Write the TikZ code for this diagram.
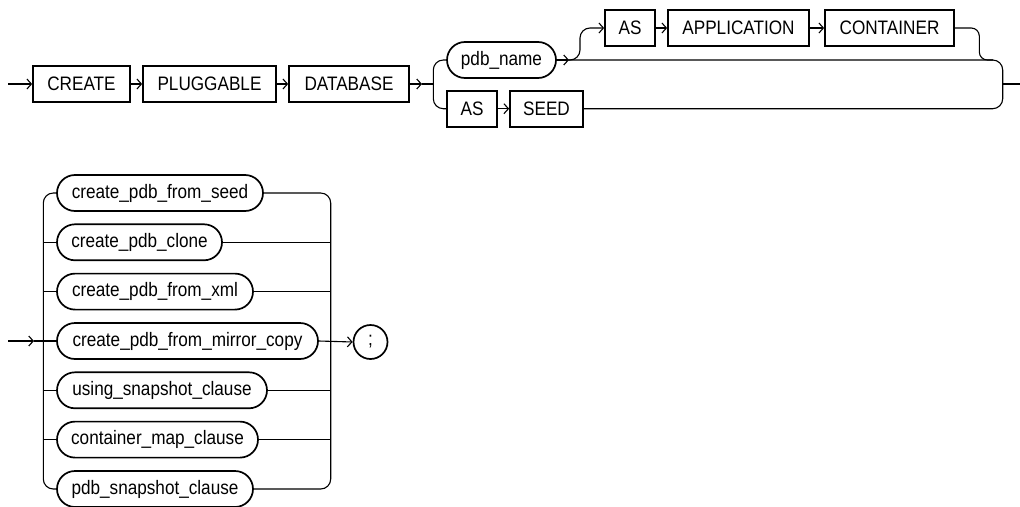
\documentclass[tikz,border=0pt]{standalone}
\usepackage{fontspec}
\setmainfont{Liberation Sans}[FakeStretch=0.88]
\usetikzlibrary{shapes.misc,arrows.meta}
\begin{document}
\begin{tikzpicture}[x=1pt,y=-1pt,
  every node/.style={font=\fontsize{19.5}{22}\selectfont, inner sep=0pt, anchor=center},
  term/.style={draw, rectangle, line width=1.7pt, minimum height=36pt},
  nterm/.style={draw, rounded rectangle, line width=1.7pt, minimum height=36pt},
  conn/.style={line width=1.1pt},
  arr/.style={conn, -{Straight Barb[length=4.5pt,width=10pt,line width=1.1pt]}},
  rc/.style={conn, rounded corners=10pt}]
\useasboundingbox (0,0) rectangle (1020,506);
% ---------- row 1 ----------
\node[term, minimum width=97pt]  (create)  at (81.5,84)  {CREATE};
\node[term, minimum width=133pt] (plug)    at (209.5,84) {PLUGGABLE};
\node[term, minimum width=120pt] (dbase)   at (349,84)   {DATABASE};
\node[nterm, minimum width=109pt] (pdbname) at (501.5,60) {pdb\_name};
\node[term, minimum width=50pt]  (as1)     at (630,28)   {AS};
\node[term, minimum width=141pt] (appl)    at (738.5,28) {APPLICATION};
\node[term, minimum width=129pt] (cont)    at (889.5,28) {CONTAINER};
\node[term, minimum width=50pt]  (as2)     at (472,108.7) {AS};
\node[term, minimum width=73pt]  (seed)    at (546.5,108.7) {SEED};
\coordinate (in1) at (8,84);
\coordinate (a1) at (422,84);
\coordinate (br1) at (433.3,84);
\coordinate (a2) at (569,60);
\coordinate (out1) at (1020,84);
\coordinate (jr) at (1002.7,84);
\draw[arr] (in1) -- (create.west);
\draw[arr] (create.east) -- (plug.west);
\draw[arr] (plug.east) -- (dbase.west);
\draw[arr] (dbase.east) -- (a1);
\draw[conn] (a1) -- (br1);
\draw[rc] (pdbname.west) -- (433.3,60) -- (433.3,108.7) -- (as2.west);
\draw[arr] (as2.east) -- (seed.west);
\draw[arr] (pdbname.east) -- (a2);
\draw[rc] (a2) -- (1002.7,60) -- (1002.7,108.7) -- (seed.east);
\draw[conn] (jr) -- (out1);
\draw[arr, rounded corners=10pt] (568,60) -- (580,60) -- (580,28) -- (as1.west);
\draw[arr] (as1.east) -- (appl.west);
\draw[arr] (appl.east) -- (cont.west);
\draw[conn, rounded corners=8pt] (cont.east) -- (979.3,28) -- (979.3,60) -- (993,60);
% ---------- row 2 ----------
\node[nterm, minimum width=206pt] (s1) at (160,193)   {create\_pdb\_from\_seed};
\node[nterm, minimum width=165pt] (s2) at (139.5,242.3) {create\_pdb\_clone};
\node[nterm, minimum width=196pt] (s3) at (155,291.6) {create\_pdb\_from\_xml};
\node[nterm, minimum width=261pt] (s4) at (187.5,341) {create\_pdb\_from\_mirror\_copy};
\node[nterm, minimum width=210pt] (s5) at (162,390.3) {using\_snapshot\_clause};
\node[nterm, minimum width=201pt] (s6) at (157.5,439.6) {container\_map\_clause};
\node[nterm, minimum width=196pt] (s7) at (155,489) {pdb\_snapshot\_clause};
\node[nterm, minimum width=33pt, minimum height=34pt] (semi) at (370.5,342) {;};
\coordinate (in2) at (8,341);
\coordinate (a3) at (34,341);
\draw[arr] (in2) -- (a3);
\draw[conn] (a3) -- (s4.west);
\draw[rc] (s1.west) -- (43.3,193) -- (43.3,489) -- (s7.west);
\draw[rc] (s1.east) -- (330.7,193) -- (330.7,489) -- (s7.east);
\foreach \n/\y in {s2/242.3,s3/291.6,s5/390.3,s6/439.6}{
  \draw[conn] (43.3,\y) -- (\n.west);
  \draw[conn] (\n.east) -- (330.7,\y);
}
\draw[arr] (s4.east) -- (semi.west);
\end{tikzpicture}
\end{document}
